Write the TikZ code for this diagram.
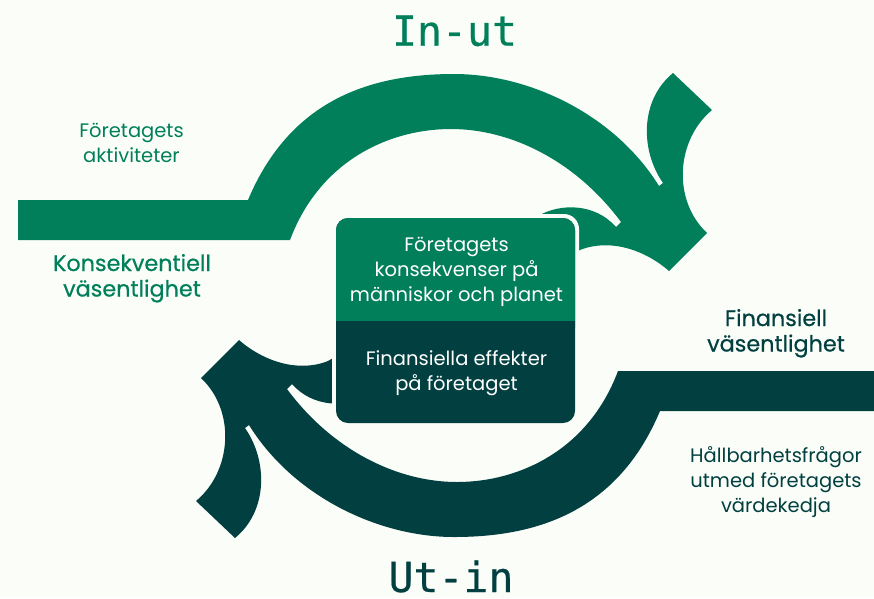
\documentclass[tikz,border=0pt]{standalone}
\usepackage{fontspec}
\setmainfont{Poppins}
\newfontfamily\medfont{Poppins}[FakeBold=0.6]
\newfontfamily\titlefont{DejaVu Sans Mono}[FakeBold=0.5]
\definecolor{cgreen}{HTML}{007F5A}
\definecolor{cdark}{HTML}{023F40}
\definecolor{cbg}{HTML}{FBFEF8}
\newcommand\inutshape{(18,200) -- (248,200) .. controls (290,100) and (370,74) .. (454,74) .. controls (530,74) and (615,115) .. (659,186) -- (663,183) .. controls (640,150) and (640,100) .. (673,73) -- (712,110) .. controls (676,140) and (672,200) .. (707,233) -- (669,271) .. controls (645,250) and (610,238) .. (580,250) -- (560,262) -- (530,228) -- (538,216) .. controls (560,203) and (595,203) .. (616,227) -- (621,222) .. controls (575,160) and (510,129) .. (451,129) .. controls (390,129) and (320,160) .. (290,240) -- (18,240) -- cycle}
\begin{document}
\begin{tikzpicture}[x=1pt,y=-1pt,
  small/.style={anchor=base,align=center,inner sep=0pt,font=\fontsize{19.5}{25}\selectfont},
  medium/.style={anchor=base,align=center,inner sep=0pt,font=\medfont\fontsize{22.3}{25.5}\selectfont},
  title/.style={anchor=base,inner sep=0pt,text height=31pt,text depth=0pt,font=\titlefont\fontsize{41.5}{42}\selectfont}]
\fill[cbg] (0,0) rectangle (874,598);
\useasboundingbox (0,0) rectangle (874,598);
\clip (0,0) rectangle (874,598);
% arrows
\fill[cgreen] \inutshape;
\begin{scope}[rotate around={180:(454,305.5)}]
\fill[cdark] \inutshape;
\end{scope}
% central box
\fill[cbg, rounded corners=15] (332,214) rectangle (579,427);
\fill[cdark, rounded corners=12] (336,218) rectangle (575,423);
\fill[cgreen, rounded corners=12] (336,218) rectangle (575,340);
\fill[cdark] (336,321) rectangle (575,345);
% texts
\node[title,text=cgreen] (inut) at (454.5,45.7) {In-ut};
\node[title,text=cdark] (utin) at (451,592) {Ut-in};
\node[small,text=cgreen] (akt) at (131.5,162.5) {Företagets\\aktiviteter};
\node[medium,text=cgreen] (konsek) at (132,296.5) {Konsekventiell\\väsentlighet};
\node[small,text=white] (impact) at (456.5,301.7) {Företagets\\konsekvenser på\\människor och planet};
\node[small,text=white] (fineff) at (456.5,390) {Finansiella effekter\\på företaget};
\node[medium,text=cdark] (finväs) at (776,351.5) {Finansiell\\väsentlighet};
\node[small,text=cdark] (hallb) at (776,512) {Hållbarhetsfrågor\\utmed företagets\\värdekedja};
\end{tikzpicture}
\end{document}
